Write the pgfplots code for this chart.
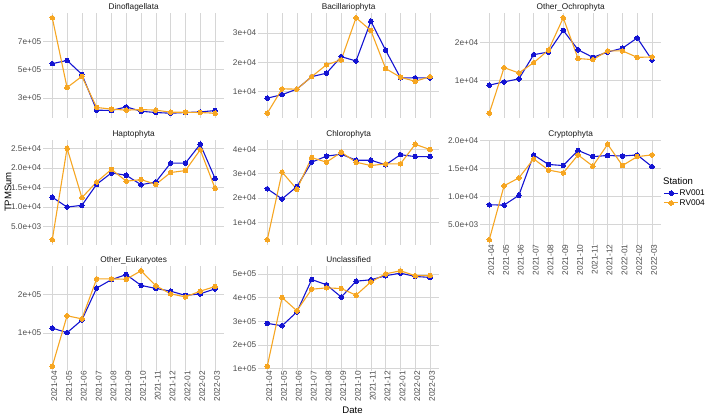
\documentclass[border=0pt]{standalone}
\usepackage{fontspec}
\setmainfont{Liberation Sans}
\usepackage{pgfplots}
\pgfplotsset{compat=1.18}
\definecolor{gridc}{HTML}{D6D6D6}
\definecolor{tickc}{HTML}{4D4D4D}
\definecolor{stripc}{HTML}{1A1A1A}
\definecolor{cblue}{HTML}{1414D2}
\definecolor{corange}{HTML}{F6A622}
\newcommand{\tfont}{\fontsize{8.3}{9.5}\selectfont}
\newcommand{\afont}{\fontsize{9.6}{11}\selectfont}
\pgfplotsset{
  every axis title/.style={at={(0.5,1)}, anchor=base, yshift=3.5bp, inner sep=0pt, font=\tfont, text=stripc},
  panel/.style={
    scale only axis, width=180.5bp, height=105bp,
    anchor=north west,
    xmin=-0.6, xmax=11.6,
    enlarge y limits=0.05,
    xtick={0,...,11},
    xticklabels={},
    scaled y ticks=false,
    grid=major,
    major grid style={draw=gridc, line width=0.6bp},
    axis line style={draw=none},
    major tick length=0pt,
    tick style={draw=none},
    tick label style={font=\tfont, text=tickc},
    yticklabel style={inner sep=0pt, xshift=-2bp},
    xticklabel style={rotate=90, anchor=east, inner sep=0pt, yshift=-2bp},
    legend image code/.code={\draw[mark repeat=2,mark phase=2,#1] plot coordinates {(0bp,0bp) (7bp,0bp) (14bp,0bp)};},
  },
  xlab/.style={xticklabels={2021-04,2021-05,2021-06,2021-07,2021-08,2021-09,2021-10,2021-11,2021-12,2022-01,2022-02,2022-03}},
  sB/.style={draw=cblue, line width=1.1bp, mark=*, mark size=2.3bp, mark options={fill=cblue, draw=cblue, line width=0pt}},
  sO/.style={draw=corange, line width=1.1bp, mark=*, mark size=2.3bp, mark options={fill=corange, draw=corange, line width=0pt}},
}
\begin{document}
\begin{tikzpicture}
\path[use as bounding box] (0,0) rectangle (709bp,-415bp);

% Row 1
\begin{axis}[panel, at={(43.4bp,-13bp)}, title={Dinoflagellata},
  ytick={300000,500000,700000}, yticklabels={3e+05,5e+05,7e+05}]
\addplot[sB] coordinates {(0,543000)(1,566000)(2,467000)(3,213000)(4,210000)(5,236000)(6,205000)(7,196000)(8,191000)(9,196000)(10,200000)(11,210000)};
\addplot[sO] coordinates {(0,869000)(1,373000)(2,453000)(3,232000)(4,220000)(5,213000)(6,217000)(7,213000)(8,198000)(9,198000)(10,196000)(11,191000)};
\end{axis}

\begin{axis}[panel, at={(258.4bp,-13bp)}, title={Bacillariophyta},
  ytick={10000,20000,30000}, yticklabels={1e+04,2e+04,3e+04}]
\addplot[sB] coordinates {(0,7600)(1,8800)(2,10700)(3,15000)(4,16200)(5,21900)(6,20400)(7,34100)(8,24100)(9,14600)(10,14600)(11,14600)};
\addplot[sO] coordinates {(0,2400)(1,10800)(2,10700)(3,15000)(4,19100)(5,20800)(6,35300)(7,30900)(8,17800)(9,14800)(10,13400)(11,15000)};
\end{axis}

\begin{axis}[panel, at={(480.4bp,-13bp)}, title={Other\_Ochrophyta},
  ytick={10000,20000}, yticklabels={1e+04,2e+04}]
\addplot[sB] coordinates {(0,8800)(1,9660)(2,10450)(3,16800)(4,17500)(5,23200)(6,18100)(7,16100)(8,17500)(9,18500)(10,21200)(11,15400)};
\addplot[sO] coordinates {(0,1420)(1,13400)(2,12000)(3,14700)(4,18000)(5,26500)(6,15800)(7,15500)(8,17800)(9,17800)(10,16100)(11,16200)};
\end{axis}

% Row 2
\begin{axis}[panel, at={(43.4bp,-139.5bp)}, title={Haptophyta},
  ytick={5000,10000,15000,20000,25000}, yticklabels={5.0e+03,1.0e+04,1.5e+04,2.0e+04,2.5e+04}]
\addplot[sB] coordinates {(0,12500)(1,10000)(2,10450)(3,15800)(4,18700)(5,18100)(6,15700)(7,16400)(8,21200)(9,21200)(10,26000)(11,17300)};
\addplot[sO] coordinates {(0,1680)(1,25000)(2,12400)(3,16400)(4,19600)(5,16600)(6,17000)(7,15800)(8,18800)(9,19300)(10,24600)(11,14800)};
\end{axis}

\begin{axis}[panel, at={(258.4bp,-139.5bp)}, title={Chlorophyta},
  ytick={10000,20000,30000,40000}, yticklabels={1e+04,2e+04,3e+04,4e+04}]
\addplot[sB] coordinates {(0,23800)(1,19600)(2,24700)(3,34800)(4,37300)(5,38100)(6,35600)(7,35600)(8,33700)(9,37900)(10,37100)(11,37100)};
\addplot[sO] coordinates {(0,2740)(1,30700)(2,23600)(3,36700)(4,34800)(5,38900)(6,34800)(7,33400)(8,34100)(9,34100)(10,42200)(11,40000)};
\end{axis}

\begin{axis}[panel, xlab, at={(480.4bp,-139.5bp)}, title={Cryptophyta},
  ytick={5000,10000,15000,20000}, yticklabels={5.0e+03,1.0e+04,1.5e+04,2.0e+04},
  legend style={at={(1,0.443)}, anchor=west, xshift=2.5bp, draw=none, fill=none, font=\tfont, inner sep=0pt, row sep=0.6bp, nodes={inner sep=1bp}},
  legend cell align=left]
\addplot[sB] coordinates {(0,8500)(1,8450)(2,10200)(3,17400)(4,15700)(5,15500)(6,18200)(7,17100)(8,17300)(9,17200)(10,17400)(11,15300)};
\addlegendentry{RV001}
\addplot[sO] coordinates {(0,2270)(1,11900)(2,13300)(3,16700)(4,14700)(5,14200)(6,17400)(7,15400)(8,19300)(9,15500)(10,17100)(11,17400)};
\addlegendentry{RV004}
\end{axis}

% Row 3
\begin{axis}[panel, xlab, at={(43.4bp,-266bp)}, title={Other\_Eukaryotes},
  ytick={100000,200000}, yticklabels={1e+05,2e+05}]
\addplot[sB] coordinates {(0,113000)(1,101000)(2,134000)(3,217000)(4,239000)(5,252000)(6,224000)(7,216000)(8,209000)(9,198000)(10,202000)(11,215000)};
\addplot[sO] coordinates {(0,13800)(1,145000)(2,137000)(3,241000)(4,241000)(5,240000)(6,262000)(7,223000)(8,202000)(9,194000)(10,209000)(11,221000)};
\end{axis}

\begin{axis}[panel, xlab, at={(258.4bp,-266bp)}, title={Unclassified},
  ytick={100000,200000,300000,400000,500000}, yticklabels={1e+05,2e+05,3e+05,4e+05,5e+05}]
\addplot[sB] coordinates {(0,291000)(1,281000)(2,339000)(3,476000)(4,454000)(5,402000)(6,469000)(7,475000)(8,492000)(9,503000)(10,489000)(11,485000)};
\addplot[sO] coordinates {(0,110000)(1,400000)(2,344000)(3,435000)(4,441000)(5,438000)(6,410000)(7,466000)(8,500000)(9,513000)(10,492000)(11,493000)};
\end{axis}

\node[anchor=west, inner sep=0pt, font=\afont] at (663bp,-181.5bp) {Station};
\node[font=\afont, inner sep=0pt] at (352.5bp,-410bp) {Date};
\node[font=\afont, inner sep=0pt, rotate=90] at (8bp,-192bp) {TPMSum};
\end{tikzpicture}
\end{document}
